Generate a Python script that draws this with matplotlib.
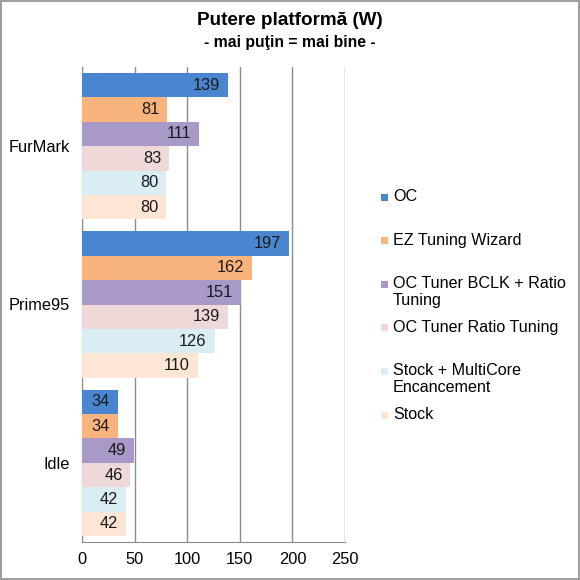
import numpy as np
import matplotlib
matplotlib.use("Agg")
import matplotlib.pyplot as plt
from matplotlib.patches import Rectangle

plt.rcParams["font.family"] = ["Liberation Sans", "DejaVu Sans"]

categories = ["FurMark", "Prime95", "Idle"]
series_names = [
    "OC",
    "EZ Tuning Wizard",
    "OC Tuner BCLK + Ratio\nTuning",
    "OC Tuner Ratio Tuning",
    "Stock + MultiCore\nEncancement",
    "Stock",
]
oc = [139, 197, 34]
ez_tuning = [81, 162, 34]
bclk_ratio = [111, 151, 49]
ratio_tuning = [83, 139, 46]
stock_mce = [80, 126, 42]
stock = [80, 110, 42]
colors = ["#4a86d0", "#f9b47e", "#a899c8", "#efd8d8", "#daedf3", "#fde6d6"]

values = [oc, ez_tuning, bclk_ratio, ratio_tuning, stock_mce, stock]

W = H = 580
fig = plt.figure(figsize=(5.8, 5.8), dpi=100)
ax = fig.add_axes([0.1414, 0.0655, 0.4536, 0.819])

n = len(values)
group_frac = 0.925
bar_h = group_frac / n
ypos = np.arange(len(categories))[::-1]  # FurMark at top

for i, (vals, col) in enumerate(zip(values, colors)):
    y = ypos + group_frac / 2 - bar_h * (i + 0.5)
    bars = ax.barh(y, vals, height=bar_h, color=col, zorder=3)
    for b, v in zip(bars, vals):
        ax.text(v - 7.5, b.get_y() + b.get_height() / 2, str(v),
                ha="right", va="center", fontsize=11.8, color="#1a1a1a", zorder=4)

ax.set_xlim(0, 250)
ax.set_ylim(-0.5, len(categories) - 0.5)
ax.set_xticks(np.arange(0, 251, 50))
ax.set_yticks(ypos)
ax.set_yticklabels(categories)
ax.tick_params(axis="x", length=0, labelsize=11.8, pad=7)
ax.tick_params(axis="y", length=0, labelsize=11.8, pad=9)
ax.xaxis.grid(True, color="#8c8c8c", linewidth=1, zorder=0)

for s in ["top", "right"]:
    ax.spines[s].set_visible(False)
for s in ["left", "bottom"]:
    ax.spines[s].set_color("#8c8c8c")

# legend drawn by hand, Excel style: entries evenly spaced, marker on first line
leg_top = 197
leg_step = 43.6
for i, (nm, col) in enumerate(zip(series_names, colors)):
    yp = leg_top + i * leg_step
    fig.patches.append(Rectangle((381 / W, 1 - (yp + 3.5) / H), 7 / W, 7 / H,
                                 transform=fig.transFigure, facecolor=col,
                                 edgecolor="none"))
    fig.text(393 / W, 1 - (yp - 8) / H, nm, ha="left", va="top",
             fontsize=11.6, linespacing=1.15)

fig.text(0.5, 0.964, "Putere platformă (W)", ha="center", va="center",
         fontsize=13.6, fontweight="bold")
fig.text(0.5, 0.927, "- mai puţin = mai bine -", ha="center", va="center",
         fontsize=11.3, fontweight="bold")

fig.patches.append(Rectangle((0.002, 0.002), 0.996, 0.996, transform=fig.transFigure,
                             fill=False, edgecolor="#8c8c8c", linewidth=1.2))

fig.savefig("out.png", dpi=100)
